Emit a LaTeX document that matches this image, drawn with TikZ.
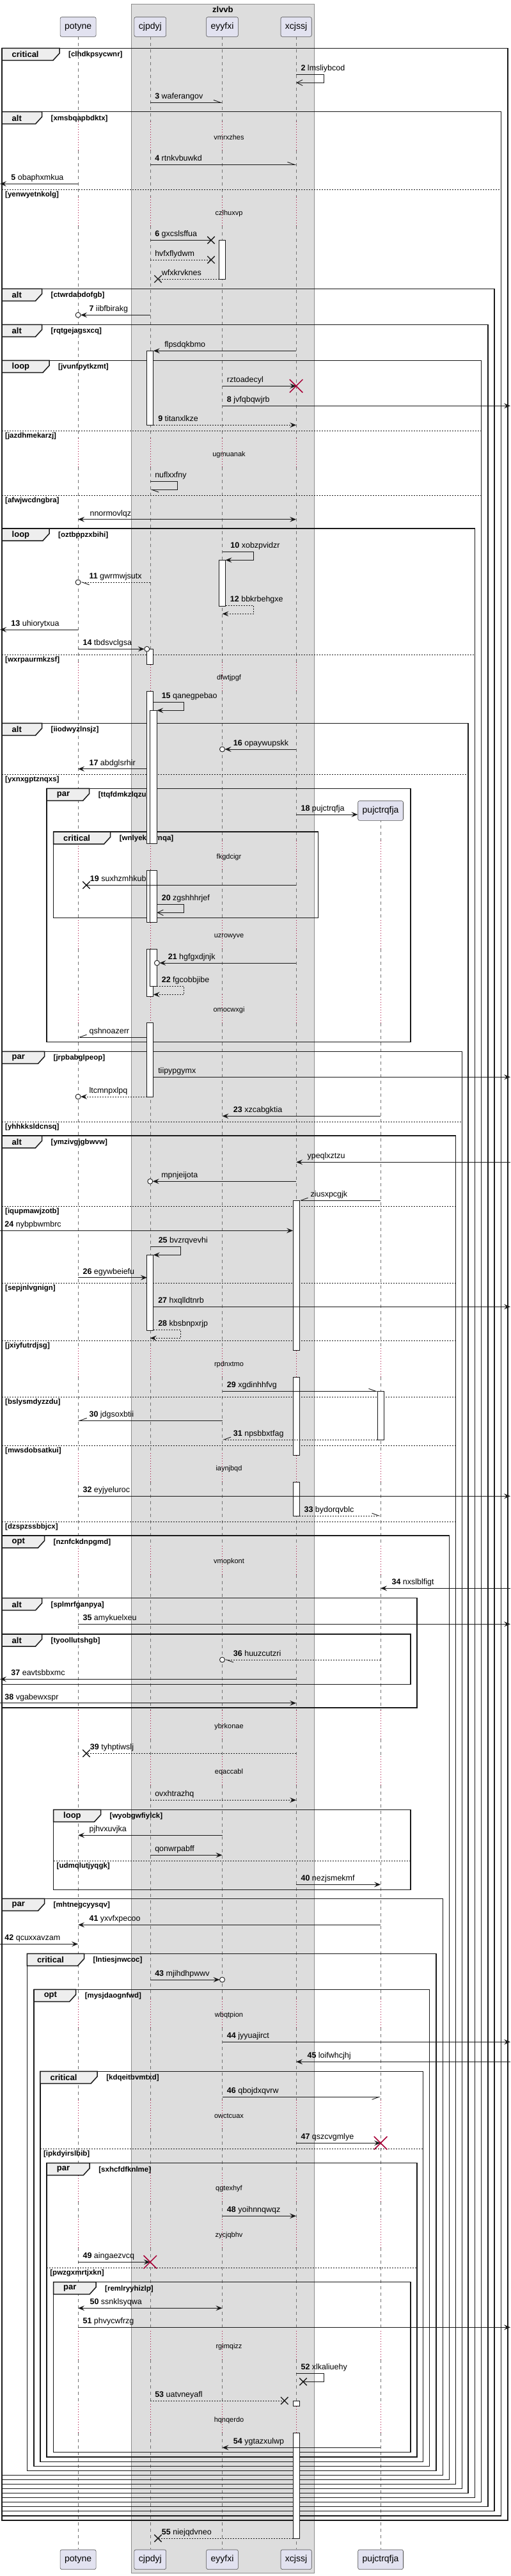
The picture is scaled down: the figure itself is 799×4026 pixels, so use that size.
\documentclass[tikz,border=0pt]{standalone}
\usepackage{fontspec}
\setmainfont{Liberation Sans}
\usetikzlibrary{arrows.meta,shapes.misc}

\definecolor{partfill}{HTML}{E2E2F0}
\definecolor{boxfill}{HTML}{DDDDDD}
\definecolor{tabfill}{HTML}{EEEEEE}
\definecolor{delayred}{HTML}{A80036}

\tikzset{
  sdfill/.tip={Stealth[length=10pt,width=8pt,inset=4pt]},
  sdopen/.tip={Straight Barb[length=9pt,width=9pt]},
  sdhalf/.tip={Straight Barb[harpoon,length=11pt,width=8pt]},
  sdhalfs/.tip={Straight Barb[harpoon,swap,length=11pt,width=8pt]}
}

\def\delays{190/235,308/353,685/730,1035/1080,1314/1359,1438/1483,1554/1599,2107/2152,2271/2316,2416/2461,2673/2718,2745/2790,3124/3169,3282/3327,3396/3441,3468/3513,3643/3688,3757/3802}

\newcommand\lifeline[1]{%
  \foreach \a/\b [remember=\b as \pb (initially 57.3)] in \delays {%
    \draw[life] (#1 |- 0,\pb) -- (#1 |- 0,\a);
    \draw[delayline] (#1 |- 0,\a) -- (#1 |- 0,\b);
  }
  \draw[life] (#1 |- 0,3802) -- (#1 |- 0,3984.3);
}

% name, left, top, right, bottom, kind, tab width, guard
\newcommand\sdgroup[8]{%
  \draw[grpline] (#2,#3) rectangle (#4,#5);
  \draw[grpline,fill=tabfill] (#2,#3) -- (#2+#7,#3) -- (#2+#7,#3+8) -- (#2+#7-10,#3+19) -- (#2,#3+19) -- cycle;
  \node[kindtxt,anchor=west] (#1) at (#2+15.5,#3+9.7) {#6};
  \node[guardtxt,anchor=west] (#1g) at (#2+#7+14,#3+10.4) {[#8]};
}
% name, left, right, y, guard
\newcommand\sdelse[5]{%
  \draw[elseline] (#2,#4) -- (#3,#4);
  \node[guardtxt,anchor=west] (#1) at (#2+5,#4+8.3) {[#5]};
}

\begin{document}
\begin{tikzpicture}[x=1pt,y=-1pt,
  part/.style={draw=black!70, fill=partfill, rounded corners=2.5pt, line width=0.6pt,
    minimum height=30.6pt, inner xsep=7pt, font=\fontsize{14}{16}\selectfont},
  boxbg/.style={draw=black!45, fill=boxfill, line width=0.6pt},
  life/.style={draw=black!55, line width=0.5pt, dash pattern=on 5pt off 5pt},
  delayline/.style={draw=delayred, line width=0.6pt, dash pattern=on 1pt off 3pt},
  grpline/.style={draw=black!90, line width=1.5pt},
  elseline/.style={draw=black!90, line width=0.9pt, dash pattern=on 2pt off 2pt},
  kindtxt/.style={font=\fontsize{13}{15}\bfseries\selectfont, inner sep=0pt},
  guardtxt/.style={font=\fontsize{11.5}{13}\bfseries\selectfont, inner sep=0pt},
  delaytxt/.style={font=\fontsize{11}{13}\selectfont, inner sep=0pt},
  act/.style={draw=black!90, fill=white, line width=0.9pt},
  msg/.style={draw=black!90, line width=0.9pt},
  ret/.style={msg, dash pattern=on 2pt off 2pt},
  lbl/.style={font=\fontsize{12.5}{15}\selectfont, inner sep=0pt, anchor=base west, yshift=5.5pt},
  lr/.style={lbl, at start, xshift=7pt},
  lrs/.style={lbl, at start, xshift=12.5pt},
  lrb/.style={lbl, at start, xshift=18pt},
  ll/.style={lbl, at end, xshift=17pt},
  llx/.style={lbl, at end, xshift=5.5pt},
  ocirc/.style={circle, draw=black!90, fill=white, line width=0.9pt, minimum size=8pt, inner sep=0pt},
  xmark/.style={cross out, draw=black!90, line width=1.4pt, minimum size=10pt, inner sep=0pt},
  destroyx/.style={cross out, draw=delayred, line width=1.5pt, minimum size=19pt, inner sep=0pt}]

\useasboundingbox (0,0) rectangle (799,4026);

\draw[boxbg] (205.7,6) rectangle (491.2,4021);
\node[kindtxt] (zlvvb) at (348.4,14.7) {zlvvb};

\node[part] (pot) at (122.1,42) {potyne};
\node[part] (cj) at (234.8,42) {cjpdyj};
\node[part] (ey) at (347.5,42) {eyyfxi};
\node[part] (xc) at (463.1,42) {xcjssj};
\node[part] (pu) at (595.1,1267) {pujctrqfja};
\node[part] (potB) at (122.1,4000.2) {potyne};
\node[part] (cjB) at (234.8,4000.2) {cjpdyj};
\node[part] (eyB) at (347.5,4000.2) {eyyfxi};
\node[part] (xcB) at (463.1,4000.2) {xcjssj};
\node[part] (puB) at (595.1,4000.2) {pujctrqfja};

\coordinate (lft) at (0,0);
\coordinate (rgt) at (798,0);
\coordinate (potX) at (135,0);
\coordinate (cjL) at (229.8,0);
\coordinate (cjR) at (239.8,0);
\coordinate (cjN) at (245.4,0);
\coordinate (cjX) at (247,0);
\coordinate (eyL) at (342.5,0);
\coordinate (eyR) at (352.5,0);
\coordinate (eyX) at (330,0);
\coordinate (xcL) at (458.1,0);
\coordinate (xcR) at (468.1,0);
\coordinate (xcX) at (444.8,0);
\coordinate (xcX2) at (474,0);
\coordinate (puL) at (590.1,0);
\coordinate (puR) at (600.1,0);

\lifeline{pot}
\lifeline{cj}
\lifeline{ey}
\lifeline{xc}
\begin{scope}
  \clip (550,1282.3) rectangle (640,3984.3);
  \lifeline{pu}
\end{scope}

\foreach \t/\y in {vmrxzhes/215,czlhuxvp/333.3,ugmuanak/710.3,dfwtjpgf/1060,fkgdcigr/1339.3,uzrowyve/1463.3,omocwxgi/1578.7,rpdnxtmo/2132.3,iaynjbqd/2296,vmopkont/2440.7,ybrkonae/2698.3,eqaccabl/2770,wbqtpion/3149.3,owctcuax/3307.3,qgtexhyf/3421,zycjqbhv/3493.3,rgimqizz/3667.7,hqnqerdo/3782.3}
  \node[delaytxt] (\t) at (358,\y) {\t};

\sdgroup{g1}{3}{75.3}{794}{3938.7}{critical}{90}{clhdkpsycwnr}
\sdgroup{g2}{3}{174.7}{783.5}{3931.7}{alt}{62.5}{xmsbqapbdktx}
\sdelse{e2a}{3}{783.5}{296}{yenwyetnkolg}
\sdgroup{g3}{3}{451.3}{773.2}{3924.3}{alt}{62.5}{ctwrdabdofgb}
\sdgroup{g4}{3}{507.3}{763}{3917.3}{alt}{62.5}{rqtgejagsxcq}
\sdgroup{g5}{3}{563.3}{752.6}{3910.3}{loop}{74}{jvunfpytkzmt}
\sdelse{e5a}{3}{752.6}{673.3}{jazdhmekarzj}
\sdelse{e5b}{3}{752.6}{774.3}{afwjwcdngbra}
\sdgroup{g6}{3}{826}{742.3}{3903.3}{loop}{74}{oztbppzxbihi}
\sdelse{e6a}{3}{742.3}{1023.3}{wxrpaurmkzsf}
\sdgroup{g7}{3}{1130.3}{732}{3896.3}{alt}{62.5}{iiodwyzlnsjz}
\sdelse{e7a}{3}{732}{1210.3}{yxnxgptznqxs}
\sdgroup{g8}{73.2}{1232.3}{641.8}{1628.7}{par}{66.5}{ttqfdmkzlqzu}
\sdgroup{g9}{83.5}{1300}{497.4}{1434.3}{critical}{89.2}{wnlyekvornqa}
\sdgroup{g10}{3}{1643.3}{722.7}{3889.3}{par}{66.5}{jrpbabglpeop}
\sdelse{e10a}{3}{722.7}{1753.7}{yhhkksldcnsq}
\sdgroup{g11}{3}{1775}{712.4}{3882.3}{alt}{62.5}{ymzivgjgbwvw}
\sdelse{e11a}{3}{712.4}{1885.3}{iqupmawjzotb}
\sdelse{e11b}{3}{712.4}{2005.7}{sepjnlvgnign}
\sdelse{e11c}{3}{712.4}{2095.3}{jxiyfutrdjsg}
\sdelse{e11d}{3}{712.4}{2183.3}{bslysmdyzzdu}
\sdelse{e11e}{3}{712.4}{2259.3}{mwsdobsatkui}
\sdelse{e11f}{3}{712.4}{2378.3}{dzspzssbbjcx}
\sdgroup{g12}{3}{2400}{702.6}{3875.3}{opt}{66.5}{nznfckdnpgmd}
\sdgroup{g13}{3}{2497.7}{652}{2669}{alt}{62.5}{splmrfganpya}
\sdgroup{g14}{3}{2554}{641.8}{2632.3}{alt}{62.5}{tyoollutshgb}
\sdgroup{g15}{83.5}{2828.3}{641.8}{2953.3}{loop}{74}{wyobgwfiylck}
\sdelse{e15a}{83.5}{641.8}{2908.3}{udmqlutjyqgk}
\sdgroup{g16}{3}{2967.3}{692.3}{3868.3}{par}{66.5}{mhtnegcyysqv}
\sdgroup{g17}{42.3}{3053.3}{682}{3861.3}{critical}{89.2}{lntiesjnwcoc}
\sdgroup{g18}{53.1}{3109.3}{671.6}{3854.3}{opt}{65.5}{mysjdaognfwd}
\sdgroup{g19}{62.9}{3237.3}{661.3}{3847.3}{critical}{89.2}{kdqeitbvmtxd}
\sdelse{e19a}{62.9}{661.3}{3358.3}{ipkdyirslbib}
\sdgroup{g20}{73.2}{3380.7}{652}{3840}{par}{67}{sxhcfdfknlme}
\sdelse{e20a}{73.2}{652}{3544}{pwzgxmrtjxkn}
\sdgroup{g21}{83.5}{3566.7}{641.8}{3832.7}{par}{66.5}{remlryyhizlp}

\draw[act] (eyL |- 0,375.3) rectangle (eyR |- 0,436);
\draw[act] (cjL |- 0,548.3) rectangle (cjR |- 0,664.3);
\draw[act] (eyL |- 0,875.3) rectangle (eyR |- 0,947);
\foreach \a/\b in {1014.3/1038.3,1080/1318,1360/1441.7,1483.3/1557.3,1598.3/1714.3}
  \draw[act] (cjL |- 0,\a) rectangle (cjR |- 0,\b);
\foreach \a/\b in {1110.3/1318,1360/1441.7,1483.3/1541.3}
  \draw[act] (cj |- 0,\a) rectangle (cjN |- 0,\b);
\draw[act] (cjL |- 0,1961.3) rectangle (cjR |- 0,2079.3);
\foreach \a/\b in {1876/2110,2152.3/2274.3,2316/2369,3752/3760,3802.3/3967}
  \draw[act] (xcL |- 0,\a) rectangle (xcR |- 0,\b);
\draw[act] (puL |- 0,2174.3) rectangle (puR |- 0,2250);

\draw[msg,-sdopen] (xc |- 0,116.3) -- node[lr] (l2) {\textbf{2} lmsliybcod} ++(43,0) -- ++(0,13) -- (xc |- 0,129.3);
\draw[msg,-sdhalf] (cj |- 0,160.3) -- (ey |- 0,160.3) node[lr] (l3) {\textbf{3} waferangov};
\draw[msg,-sdhalf] (cj |- 0,257.3) -- (xc |- 0,257.3) node[lr] (l4) {\textbf{4} rtnkvbuwkd};
\draw[msg,-sdfill] (pot |- 0,287.3) -- (lft |- 0,287.3) node[ll] (l5) {\textbf{5} obaphxmkua};
\draw[msg] (cj |- 0,375.3) -- (eyX |- 0,375.3) node[lr] (l6) {\textbf{6} gxcslsffua};
\node[xmark] (x6) at (eyX |- 0,375.3) {};
\draw[ret] (cj |- 0,406) -- (eyX |- 0,406) node[lr] (lhv) {hvfxflydwm};
\node[xmark] (xhv) at (eyX |- 0,406) {};
\draw[ret] (eyL |- 0,436) -- (cjX |- 0,436) node[llx] (lwf) {wfxkrvknes};
\node[xmark] (xwf) at (cjX |- 0,436) {};
\draw[msg,-sdfill,shorten >=4pt] (cj |- 0,492.3) -- (pot |- 0,492.3) node[ll] (l7) {\textbf{7} iibfbirakg};
\node[ocirc] (o7) at (pot |- 0,492.3) {};
\draw[msg,-sdfill] (xc |- 0,548.3) -- (cjR |- 0,548.3) node[ll] (lfl) {flpsdqkbmo};
\draw[msg,-sdfill] (ey |- 0,603.3) -- (xc |- 0,603.3) node[lr] (lrz) {rztoadecyl};
\node[destroyx] (drz) at (xc |- 0,603.3) {};
\draw[msg,-sdfill] (ey |- 0,634.3) -- (rgt |- 0,634.3) node[lr] (l8) {\textbf{8} jvfqbqwjrb};
\draw[ret,-sdfill] (cjR |- 0,664.3) -- (xc |- 0,664.3) node[lr] (l9) {\textbf{9} titanxlkze};
\draw[msg,-sdhalf] (cj |- 0,752.3) -- node[lr] (lnu) {nuflxxfny} ++(43,0) -- ++(0,13) -- (cj |- 0,765.3);
\draw[msg,sdfill-sdfill] (pot |- 0,811.7) -- (xc |- 0,811.7) node[lrb] (lnn) {nnormovlqz};
\draw[msg,-sdfill] (ey |- 0,862.3) -- node[lrs] (l10) {\textbf{10} xobzpvidzr} ++(49,0) -- ++(0,13) -- (eyR |- 0,875.3);
\draw[ret,-sdhalf,shorten >=4pt] (cj |- 0,910) -- (pot |- 0,910) node[ll] (l11) {\textbf{11} gwrmwjsutx};
\node[ocirc] (o11) at (pot |- 0,910) {};
\draw[ret,-sdfill] (eyR |- 0,946.3) -- node[lr] (l12) {\textbf{12} bbkrbehgxe} ++(43.6,0) -- ++(0,13) -- (ey |- 0,959.3);
\draw[msg,-sdfill] (pot |- 0,984) -- (lft |- 0,984) node[ll] (l13) {\textbf{13} uhiorytxua};
\draw[msg,-sdfill,shorten >=4pt] (pot |- 0,1014.3) -- (cjL |- 0,1014.3) node[lr] (l14) {\textbf{14} tbdsvclgsa};
\node[ocirc] (o14) at (cjL |- 0,1014.3) {};
\draw[msg,-sdfill] (cjR |- 0,1097.3) -- node[lrs] (l15) {\textbf{15} qanegpebao} ++(47.6,0) -- ++(0,13) -- (cjN |- 0,1110.3);
\draw[msg,-sdfill,shorten >=4pt] (xc |- 0,1171) -- (ey |- 0,1171) node[ll] (l16) {\textbf{16} opaywupskk};
\node[ocirc] (o16) at (ey |- 0,1171) {};
\draw[msg,-sdfill] (cjL |- 0,1201.7) -- (pot |- 0,1201.7) node[ll] (l17) {\textbf{17} abdglsrhir};
\draw[msg,-sdfill] (xc |- 0,1273) -- (pu.west |- 0,1273) node[lr] (l18) {\textbf{18} pujctrqfja};
\draw[msg] (xc |- 0,1383.3) -- (potX |- 0,1383.3) node[llx] (l19) {\textbf{19} suxhzmhkub};
\node[xmark] (x19) at (potX |- 0,1383.3) {};
\draw[msg,-sdopen] (cjN |- 0,1413.3) -- node[lr] (l20) {\textbf{20} zgshhhrjef} ++(42.2,0) -- ++(0,13) -- (cjN |- 0,1426.3);
\draw[msg,-sdfill,shorten >=4pt] (xc |- 0,1505) -- (cjN |- 0,1505) node[ll] (l21) {\textbf{21} hgfgxdjnjk};
\node[ocirc] (o21) at (cjN |- 0,1505) {};
\draw[ret,-sdfill] (cjN |- 0,1541.3) -- node[lr] (l22) {\textbf{22} fgcobbjibe} ++(42.2,0) -- ++(0,13) -- (cjR |- 0,1554.3);
\draw[msg,-sdhalfs] (cjL |- 0,1621) -- (pot |- 0,1621) node[ll] (lqs) {qshnoazerr};
\draw[msg,-sdfill] (cjR |- 0,1683.3) -- (rgt |- 0,1683.3) node[lr] (lti) {tiipypgymx};
\draw[ret,-sdfill,shorten >=4pt] (cjL |- 0,1714) -- (pot |- 0,1714) node[ll] (llt) {ltcmnpxlpq};
\node[ocirc] (olt) at (pot |- 0,1714) {};
\draw[msg,-sdfill] (pu |- 0,1744.3) -- (ey |- 0,1744.3) node[ll] (l23) {\textbf{23} xzcabgktia};
\draw[msg,-sdfill] (rgt |- 0,1816.3) -- (xc |- 0,1816.3) node[ll] (lyp) {ypeqlxztzu};
\draw[msg,-sdfill,shorten >=4pt] (xc |- 0,1846.3) -- (cj |- 0,1846.3) node[ll] (lmp) {mpnjeijota};
\node[ocirc] (omp) at (cj |- 0,1846.3) {};
\draw[msg,-sdhalfs] (pu |- 0,1876) -- (xcR |- 0,1876) node[ll] (lzi) {ziusxpcgjk};
\draw[msg,-sdfill] (lft |- 0,1923.3) -- (xcL |- 0,1923.3) node[lr] (l24) {\textbf{24} nybpbwmbrc};
\draw[msg,-sdfill] (cj |- 0,1948.3) -- node[lrs] (l25) {\textbf{25} bvzrqvevhi} ++(47.5,0) -- ++(0,13) -- (cjR |- 0,1961.3);
\draw[msg,-sdfill] (pot |- 0,1996.7) -- (cjL |- 0,1996.7) node[lr] (l26) {\textbf{26} egywbeiefu};
\draw[msg,-sdfill] (cjR |- 0,2042.3) -- (rgt |- 0,2042.3) node[lr] (l27) {\textbf{27} hxqlldtnrb};
\draw[ret,-sdfill] (cjR |- 0,2078.3) -- node[lr] (l28) {\textbf{28} kbsbnpxrjp} ++(42.5,0) -- ++(0,13) -- (cj |- 0,2091.3);
\draw[msg,-sdhalf] (ey |- 0,2174.3) -- (puL |- 0,2174.3) node[lr] (l29) {\textbf{29} xgdinhhfvg};
\draw[msg,-sdhalfs] (ey |- 0,2220.3) -- (pot |- 0,2220.3) node[ll] (l30) {\textbf{30} jdgsoxbtii};
\draw[ret,-sdhalfs] (puL |- 0,2250) -- (ey |- 0,2250) node[ll] (l31) {\textbf{31} npsbbxtfag};
\draw[msg,-sdfill] (pot |- 0,2338.3) -- (rgt |- 0,2338.3) node[lr] (l32) {\textbf{32} eyjyeluroc};
\draw[ret,-sdhalf] (xcR |- 0,2369) -- (pu |- 0,2369) node[lr] (l33) {\textbf{33} bydorqvblc};
\draw[msg,-sdfill] (rgt |- 0,2482.3) -- (pu |- 0,2482.3) node[ll] (l34) {\textbf{34} nxslblfigt};
\draw[msg,-sdfill] (pot |- 0,2538.3) -- (rgt |- 0,2538.3) node[lr] (l35) {\textbf{35} amykuelxeu};
\draw[ret,-sdhalf,shorten >=4pt] (pu |- 0,2594) -- (ey |- 0,2594) node[ll] (l36) {\textbf{36} huuzcutzri};
\node[ocirc] (o36) at (ey |- 0,2594) {};
\draw[msg,-sdfill] (xc |- 0,2624.3) -- (lft |- 0,2624.3) node[ll] (l37) {\textbf{37} eavtsbbxmc};
\draw[msg,-sdfill] (lft |- 0,2661.7) -- (xc |- 0,2661.7) node[lr] (l38) {\textbf{38} vgabewxspr};
\draw[ret] (xc |- 0,2740.3) -- (potX |- 0,2740.3) node[llx] (l39) {\textbf{39} tyhptiwslj};
\node[xmark] (x39) at (potX |- 0,2740.3) {};
\draw[ret,-sdfill] (cj |- 0,2813.3) -- (xc |- 0,2813.3) node[lr] (lov) {ovxhtrazhq};
\draw[msg,-sdfill] (ey |- 0,2868.3) -- (pot |- 0,2868.3) node[ll] (lpj) {pjhvxuvjka};
\draw[msg,-sdfill] (cj |- 0,2899.3) -- (ey |- 0,2899.3) node[lr] (lqo) {qonwrpabff};
\draw[msg,-sdfill] (xc |- 0,2945.3) -- (pu |- 0,2945.3) node[lr] (l40) {\textbf{40} nezjsmekmf};
\draw[msg,-sdfill] (pu |- 0,3008.3) -- (pot |- 0,3008.3) node[ll] (l41) {\textbf{41} yxvfxpecoo};
\draw[msg,-sdfill] (lft |- 0,3038.3) -- (pot |- 0,3038.3) node[lr] (l42) {\textbf{42} qcuxxavzam};
\draw[msg,-sdfill,shorten >=4pt] (cj |- 0,3094) -- (ey |- 0,3094) node[lr] (l43) {\textbf{43} mjihdhpwwv};
\node[ocirc] (o43) at (ey |- 0,3094) {};
\draw[msg,-sdfill] (ey |- 0,3191.3) -- (rgt |- 0,3191.3) node[lr] (l44) {\textbf{44} jyyuajirct};
\draw[msg,-sdfill] (rgt |- 0,3222.3) -- (xc |- 0,3222.3) node[ll] (l45) {\textbf{45} loifwhcjhj};
\draw[msg,-sdhalfs] (ey |- 0,3277.3) -- (pu |- 0,3277.3) node[lr] (l46) {\textbf{46} qbojdxqvrw};
\draw[msg,-sdfill] (xc |- 0,3349.3) -- (pu |- 0,3349.3) node[lr] (l47) {\textbf{47} qszcvgmlye};
\node[destroyx] (d47) at (pu |- 0,3349.3) {};
\draw[msg,-sdfill] (ey |- 0,3463.3) -- (xc |- 0,3463.3) node[lr] (l48) {\textbf{48} yoihnnqwqz};
\draw[msg,-sdfill] (pot |- 0,3535.3) -- (cj |- 0,3535.3) node[lr] (l49) {\textbf{49} aingaezvcq};
\node[destroyx] (d49) at (cj |- 0,3535.3) {};
\draw[msg,sdfill-sdfill] (pot |- 0,3607.3) -- (ey |- 0,3607.3) node[lrb] (l50) {\textbf{50} ssnklsyqwa};
\draw[msg,-sdfill] (pot |- 0,3637.3) -- (rgt |- 0,3637.3) node[lr] (l51) {\textbf{51} phvycwfrzg};
\draw[msg] (xc |- 0,3709.3) -- node[lr] (l52) {\textbf{52} xlkaliuehy} ++(43,0) -- ++(0,13) -- (xcX2 |- 0,3722.3);
\node[xmark] (x52) at (xcX2 |- 0,3722.3) {};
\draw[ret] (cj |- 0,3752) -- (xcX |- 0,3752) node[lr] (l53) {\textbf{53} uatvneyafl};
\node[xmark] (x53) at (xcX |- 0,3752) {};
\draw[msg,-sdfill] (pu |- 0,3825.3) -- (ey |- 0,3825.3) node[ll] (l54) {\textbf{54} ygtazxulwp};
\draw[ret] (xcL |- 0,3967) -- (cjX |- 0,3967) node[llx] (l55) {\textbf{55} niejqdvneo};
\node[xmark] (x55) at (cjX |- 0,3967) {};
\end{tikzpicture}
\end{document}
